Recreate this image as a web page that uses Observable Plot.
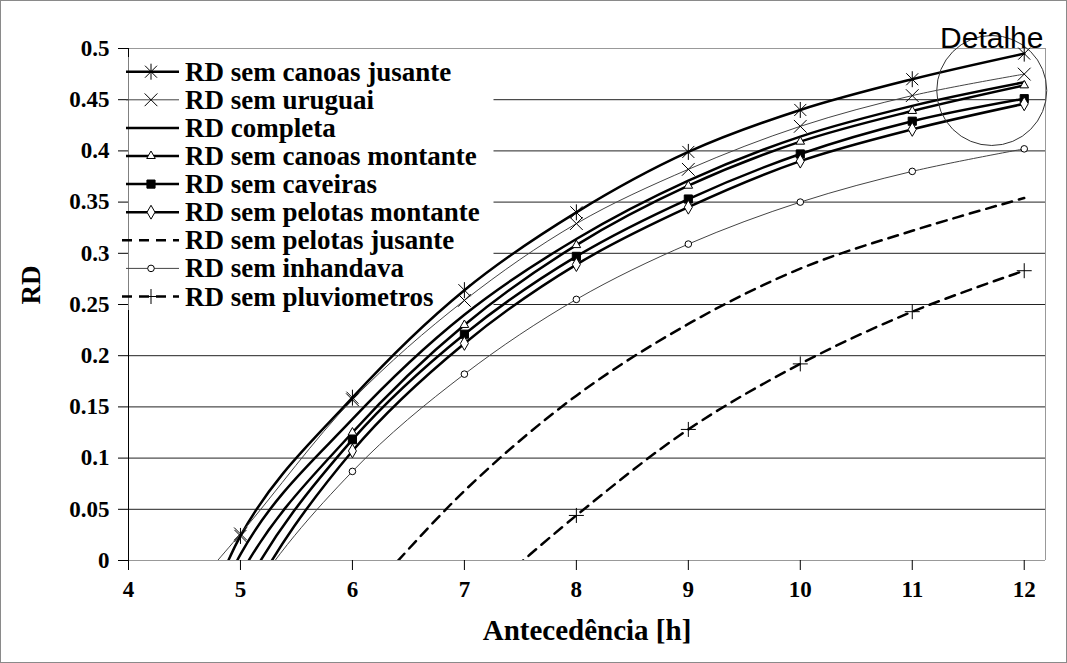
<!DOCTYPE html>
<html>
<head>
<meta charset="utf-8">
<script src="https://cdn.jsdelivr.net/npm/d3@7"></script>
<script src="https://cdn.jsdelivr.net/npm/@observablehq/plot@0.6"></script>
<style>
html, body { margin: 0; padding: 0; background: #fff; }
#chart { position: relative; width: 1067px; height: 663px; overflow: hidden; }
#chart svg { display: block; }
#border { position: absolute; left: 0; top: 0; width: 1065px; height: 661px; border: 1px solid #8a8a8a; pointer-events: none; }
</style>
</head>
<body>
<div id="chart"><div id="border"></div></div>
<script>
// ---- data ----
const hours = [4, 5, 6, 7, 8, 9, 10, 11, 12];
const canoasJusante   = [-0.30,  0.024, 0.159, 0.264, 0.340, 0.399, 0.440, 0.470, 0.495];
const uruguai         = [-0.10,  0.026, 0.157, 0.254, 0.329, 0.382, 0.424, 0.454, 0.475];
const completa        = [-0.32,  0.006, 0.138, 0.240, 0.314, 0.371, 0.414, 0.444, 0.467];
const canoasMontante  = [-0.33, -0.014, 0.125, 0.230, 0.308, 0.366, 0.409, 0.439, 0.464];
const caveiras        = [-0.35, -0.035, 0.118, 0.221, 0.297, 0.353, 0.397, 0.429, 0.451];
const pelotasMontante = [-0.37, -0.055, 0.107, 0.212, 0.289, 0.345, 0.390, 0.421, 0.446];
const inhandava       = [-0.30, -0.050, 0.087, 0.182, 0.255, 0.309, 0.350, 0.380, 0.402];
const hoursPelotasJusante = [6, 7, 8, 9, 10, 11, 12];
const pelotasJusante      = [-0.05, 0.068, 0.161, 0.231, 0.285, 0.322, 0.354];
const hoursPluviometros   = [7, 8, 9, 10, 11, 12];
const pluviometros        = [-0.05, 0.044, 0.128, 0.192, 0.243, 0.283];

const seriesLabels = [
  "RD sem canoas jusante", "RD sem uruguai", "RD completa", "RD sem canoas montante",
  "RD sem caveiras", "RD sem pelotas montante", "RD sem pelotas jusante",
  "RD sem inhandava", "RD sem pluviometros"
];
const xTicks = [4, 5, 6, 7, 8, 9, 10, 11, 12];
const yTicks = [0, 0.05, 0.1, 0.15, 0.2, 0.25, 0.3, 0.35, 0.4, 0.45, 0.5];
const xTitle = "Antecedência [h]";
const yTitle = "RD";
const detailNote = [{x: 11.71, y: 0.459, ty: 0.5, label: "Detalhe"}];

const SERIF = "'Liberation Serif', 'DejaVu Serif', 'Times New Roman', serif";

// ---- marker symbols ----
const symAsterisk = {draw(ctx, size) { const r = Math.sqrt(size / Math.PI), d = r * 0.75;
  ctx.moveTo(-d, -d); ctx.lineTo(d, d); ctx.moveTo(d, -d); ctx.lineTo(-d, d);
  ctx.moveTo(0, -r); ctx.lineTo(0, r); }};
const symTimes = {draw(ctx, size) { const r = Math.sqrt(size / Math.PI), d = r * 0.75;
  ctx.moveTo(-d, -d); ctx.lineTo(d, d); ctx.moveTo(d, -d); ctx.lineTo(-d, d); }};
const symPlus = {draw(ctx, size) { const r = Math.sqrt(size / Math.PI);
  ctx.moveTo(-r, 0); ctx.lineTo(r, 0); ctx.moveTo(0, -r); ctx.lineTo(0, r); }};

const series = [
  {xs: hours, ys: canoasJusante,   sw: 2.5, stroke: "#000", sym: symAsterisk, r: 8,   fill: "none"},
  {xs: hours, ys: uruguai,         sw: 1,   stroke: "#444", sym: symTimes,    r: 8.5, fill: "none"},
  {xs: hours, ys: completa,        sw: 2.5, stroke: "#000"},
  {xs: hours, ys: canoasMontante,  sw: 2.5, stroke: "#000", sym: d3.symbolTriangle, r: 3.2, fill: "#fff"},
  {xs: hours, ys: caveiras,        sw: 2.5, stroke: "#000", sym: d3.symbolSquare,   r: 4.6, fill: "#000"},
  {xs: hours, ys: pelotasMontante, sw: 2.5, stroke: "#000", sym: d3.symbolDiamond,  r: 4.2, fill: "#fff"},
  {xs: hoursPelotasJusante, ys: pelotasJusante, sw: 2.5, stroke: "#000", dash: "10,7"},
  {xs: hours, ys: inhandava,       sw: 1,   stroke: "#444", sym: d3.symbolCircle,   r: 3.3, fill: "#fff"},
  {xs: hoursPluviometros, ys: pluviometros, sw: 2.5, stroke: "#000", dash: "10,7", sym: symPlus, r: 7.5, fill: "none"}
];
series.forEach((s, i) => { s.label = seriesLabels[i]; s.data = s.xs.map((x, j) => ({x, y: s.ys[j]})); });

const fmt = d => String(Math.round(d * 100) / 100);

const marks = [
  Plot.gridY(yTicks.filter(v => v > 0 && v < 0.5), {stroke: "#222", strokeOpacity: 1, strokeWidth: 1}),
  Plot.ruleY([0.5], {stroke: "#999"}),
  Plot.ruleX([12.19], {stroke: "#999"}),
  Plot.ruleY([0], {stroke: "#999"}),
  Plot.ruleX([4], {stroke: "#000"}),
  Plot.axisY(yTicks, {tickSize: 10, tickPadding: 9, tickFormat: fmt, fontSize: 23, stroke: "#000", label: null}),
  Plot.axisX(xTicks, {tickSize: 10, tickPadding: 10, tickFormat: fmt, fontSize: 23, stroke: "#000", label: null}),
  Plot.text([yTitle], {frameAnchor: "left", dx: -97, rotate: -90, fontSize: 27, text: d => d}),
  Plot.text([xTitle], {frameAnchor: "bottom", dy: 79, fontSize: 29, text: d => d})
];
for (const s of series) {
  marks.push(Plot.line(s.data, {x: "x", y: "y", curve: "catmull-rom", stroke: s.stroke,
    strokeWidth: s.sw, strokeDasharray: s.dash || undefined, clip: true}));
}
for (const s of series) {
  if (!s.sym) continue;
  marks.push(Plot.dot(s.data.filter(d => d.y >= 0), {x: "x", y: "y", symbol: s.sym, r: s.r,
    fill: s.fill, stroke: "#000", strokeWidth: 1}));
}
marks.push(Plot.dot(detailNote, {x: "x", y: "y", r: 55, stroke: "#333", fill: "none", strokeWidth: 1}));
marks.push(Plot.text(detailNote, {x: "x", y: "ty", text: "label", fontFamily: "'Liberation Sans', Arial, sans-serif",
  fontWeight: "normal", fontSize: 30, lineAnchor: "bottom", dy: -1}));

const plot = Plot.plot({
  width: 1067, height: 663,
  marginLeft: 128, marginTop: 48, marginRight: 22, marginBottom: 103,
  x: {domain: [4, 12.19], label: null},
  y: {domain: [0, 0.5], label: null},
  style: `font-family: ${SERIF}; font-weight: bold; color: #000; background: #fff; overflow: visible;`,
  marks
});
const chart = document.getElementById("chart");
chart.insertBefore(plot, chart.firstChild);

// ---- legend inside the plot area (as in the original) ----
const svg = d3.select(plot);
const firstLine = plot.querySelector('g[aria-label="line"]');
const rowY0 = 71.7, rowStep = 28.1;
d3.select(firstLine.parentNode).insert("rect", () => firstLine)
  .attr("x", 128.5).attr("y", 57).attr("width", 365).attr("height", 253).attr("fill", "#fff");
const lg = svg.append("g").attr("class", "legend").attr("text-anchor", "start");
series.forEach((s, i) => {
  const cy = rowY0 + i * rowStep;
  lg.append("line").attr("x1", s.dash ? 122 : 126).attr("x2", 179).attr("y1", cy).attr("y2", cy)
    .attr("stroke", s.stroke).attr("stroke-width", s.sw).attr("stroke-dasharray", s.dash || null);
  if (s.sym) {
    lg.append("path").attr("transform", `translate(151,${cy})`)
      .attr("d", d3.symbol(s.sym, s.r * s.r * Math.PI)())
      .attr("fill", s.fill).attr("stroke", "#000").attr("stroke-width", 1);
  }
  lg.append("text").attr("x", 185).attr("y", cy + 9).attr("text-anchor", "start")
    .style("font-family", SERIF).attr("font-weight", "bold")
    .attr("font-size", 27).attr("fill", "#000").text(s.label);
});
</script>
</body>
</html>
